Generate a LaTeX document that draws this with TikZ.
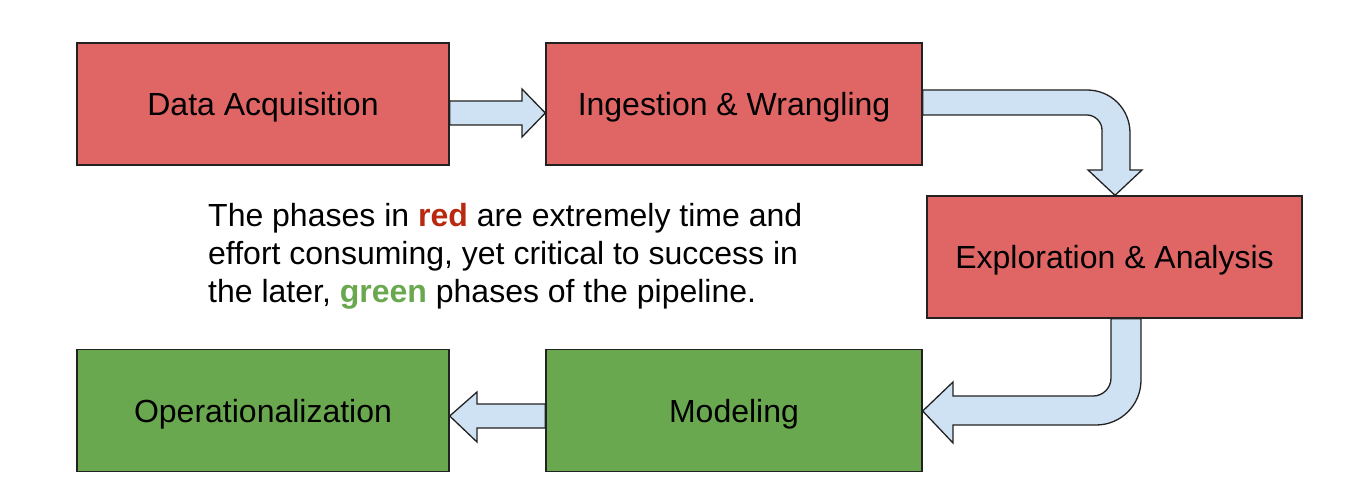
\documentclass[tikz,border=0pt]{standalone}
\usepackage{fontspec}
\setmainfont{Liberation Sans}
\definecolor{boxred}{HTML}{E06666}
\definecolor{boxgreen}{HTML}{6AA84F}
\definecolor{arrowblue}{HTML}{CFE2F3}
\definecolor{edge}{HTML}{222222}
\definecolor{txtred}{HTML}{B8290F}
\definecolor{txtgreen}{HTML}{6AA84F}
\begin{document}
\begin{tikzpicture}[x=1pt,y=-1pt,
  phase/.style={draw=edge,line width=1.4pt,minimum width=372pt,minimum height=122pt,inner sep=0pt,text height=23pt,text depth=0pt,font=\fontsize{32}{38}\selectfont},
  redphase/.style={phase,fill=boxred},
  greenphase/.style={phase,fill=boxgreen},
  blockarrow/.style={draw=edge,line width=1.3pt,fill=arrowblue,line join=miter}]
\useasboundingbox (0,0) rectangle (1348,500);
\node[redphase,minimum width=372pt] (da) at (263,104) {Data Acquisition};
\node[redphase,minimum width=376pt] (iw) at (734,104) {Ingestion \& Wrangling};
\node[redphase,minimum width=375pt] (ea) at (1114.5,257) {Exploration \& Analysis};
\node[greenphase,minimum width=372pt] (op) at (263,410.5) {Operationalization};
\node[greenphase,minimum width=376pt] (mo) at (734,410.5) {Modeling};
% arrow da -> iw
\draw[blockarrow] (da.east |- 0,101) -- (522,101) -- (522,89) -- (iw.west |- 0,113) -- (522,137) -- (522,125) -- (da.east |- 0,125) -- cycle;
% arrow iw -> ea
\draw[blockarrow] (iw.east |- 0,90) -- (1087,90) .. controls (1111,90) and (1130,109) .. (1130,133) -- (1130,170) -- (1142,170) -- (ea.north -| 1115,0) -- (1088,170) -- (1102,170) -- (1102,130) .. controls (1102,122) and (1095,115) .. (1087,115) -- (iw.east |- 0,115) -- cycle;
% arrow ea -> mo
\draw[blockarrow] (ea.south -| 1111,0) -- (1111,378) .. controls (1111,388) and (1103,396) .. (1093,396) -- (953,396) -- (953,382) -- (mo.east |- 0,411) -- (953,443) -- (953,425) -- (1096,425) .. controls (1121,425) and (1141,405) .. (1141,380) -- (ea.south -| 1141,0) -- cycle;
% arrow mo -> op
\draw[blockarrow] (mo.west |- 0,404) -- (477,404) -- (477,392) -- (op.east |- 0,416) -- (477,442) -- (477,428) -- (mo.west |- 0,428) -- cycle;
\node[anchor=base west,align=left,inner sep=0pt,font=\fontsize{32}{38}\selectfont] (note) at (208,302)
  {The phases in \textbf{\textcolor{txtred}{red}} are extremely time and\\
   effort consuming, yet critical to success in\\
   the later, \textbf{\textcolor{txtgreen}{green}} phases of the pipeline.};
\end{tikzpicture}
\end{document}
